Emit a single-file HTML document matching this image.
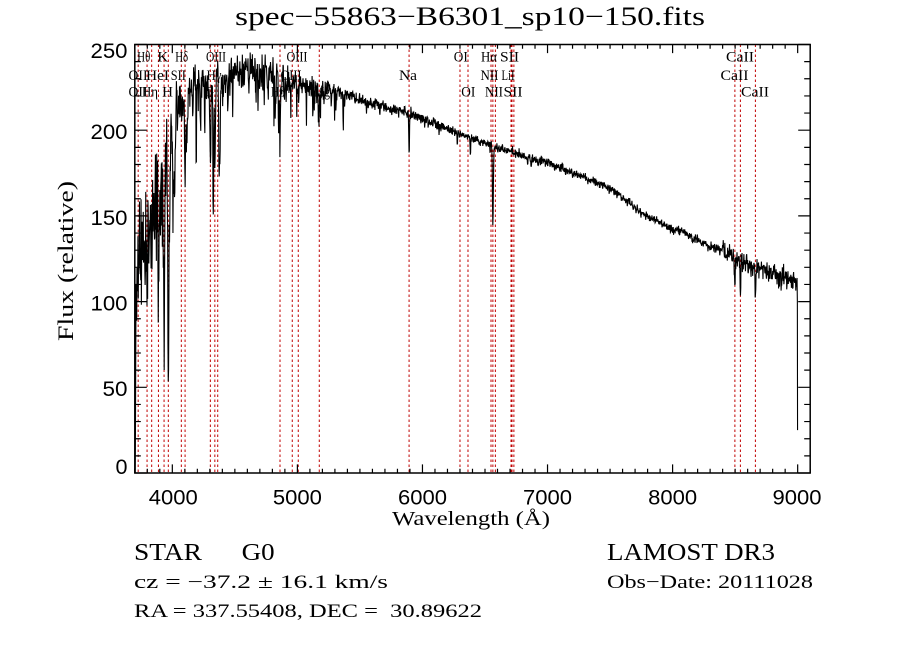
<!DOCTYPE html>
<html>
<head>
<meta charset="utf-8">
<style>
  html,body{margin:0;padding:0;background:#fff;}
  svg{display:block;}
  .serif{font-family:"Liberation Serif","DejaVu Serif",serif;}
  .sans{font-family:"Liberation Sans","DejaVu Sans",sans-serif;}
  .lab{font-family:"Liberation Serif","DejaVu Serif",serif;font-size:15px;text-anchor:middle;}
</style>
</head>
<body>
<svg id="chart" width="900" height="649" viewBox="0 0 900 649" xmlns="http://www.w3.org/2000/svg">
  <rect x="0" y="0" width="900" height="649" fill="#fff"/>
  <defs>
    <clipPath id="plotclip"><rect x="134.8" y="44.5" width="675.4" height="428.5"/></clipPath>
  </defs>

  <!-- title -->
  <text class="serif" x="235" y="25" font-size="26" textLength="470" lengthAdjust="spacingAndGlyphs">spec−55863−B6301_sp10−150.fits</text>

  <g id="redlines" clip-path="url(#plotclip)"></g>

  <!-- line labels -->
  <g>
    <text class="lab" x="143.8" y="61.5" textLength="13" lengthAdjust="spacingAndGlyphs">Hθ</text>
    <text class="lab" x="162.8" y="61.5">K</text>
    <text class="lab" x="181.7" y="61.5" textLength="13" lengthAdjust="spacingAndGlyphs">Hδ</text>
    <text class="lab" x="216" y="61.5" textLength="20" lengthAdjust="spacingAndGlyphs">OIII</text>
    <text class="lab" x="297" y="61.5" textLength="21" lengthAdjust="spacingAndGlyphs">OIII</text>
    <text class="lab" x="460.8" y="61.5" textLength="14" lengthAdjust="spacingAndGlyphs">OI</text>
    <text class="lab" x="489" y="61.5" textLength="16" lengthAdjust="spacingAndGlyphs">Hα</text>
    <text class="lab" x="509.5" y="61.5" textLength="19" lengthAdjust="spacingAndGlyphs">SII</text>
    <text class="lab" x="740" y="61.5" textLength="28" lengthAdjust="spacingAndGlyphs">CaII</text>

    <text class="lab" x="138" y="80" textLength="19" lengthAdjust="spacingAndGlyphs">OII</text>
    <text class="lab" x="157.5" y="80" textLength="23" lengthAdjust="spacingAndGlyphs">HeI</text>
    <text class="lab" x="178.3" y="80" textLength="15" lengthAdjust="spacingAndGlyphs">SII</text>
    <text class="lab" x="214" y="80" textLength="15" lengthAdjust="spacingAndGlyphs">Hγ</text>
    <text class="lab" x="291" y="80" textLength="21" lengthAdjust="spacingAndGlyphs">OIII</text>
    <text class="lab" x="408" y="80" textLength="18" lengthAdjust="spacingAndGlyphs">Na</text>
    <text class="lab" x="489.5" y="80" textLength="18" lengthAdjust="spacingAndGlyphs">NII</text>
    <text class="lab" x="508" y="80" textLength="13" lengthAdjust="spacingAndGlyphs">LiI</text>
    <text class="lab" x="734.5" y="80" textLength="28" lengthAdjust="spacingAndGlyphs">CaII</text>

    <text class="lab" x="138" y="96.5" textLength="19" lengthAdjust="spacingAndGlyphs">OII</text>
    <text class="lab" x="150" y="96.5" textLength="16" lengthAdjust="spacingAndGlyphs">Hη</text>
    <text class="lab" x="167.5" y="96.5">H</text>
    <text class="lab" x="209" y="96.5">G</text>
    <text class="lab" x="278" y="96.5" textLength="14" lengthAdjust="spacingAndGlyphs">Hβ</text>
    <text class="lab" x="322" y="96.5" textLength="16" lengthAdjust="spacingAndGlyphs">Mg</text>
    <text class="lab" x="468.3" y="96.5" textLength="14" lengthAdjust="spacingAndGlyphs">OI</text>
    <text class="lab" x="494" y="96.5" textLength="18" lengthAdjust="spacingAndGlyphs">NII</text>
    <text class="lab" x="513" y="96.5" textLength="19" lengthAdjust="spacingAndGlyphs">SII</text>
    <text class="lab" x="755" y="96.5" textLength="28" lengthAdjust="spacingAndGlyphs">CaII</text>
  </g>

  <g clip-path="url(#plotclip)">
    <path id="spec" d="" fill="none" stroke="#000" stroke-width="1.1" stroke-linejoin="miter"/>
  </g>

  <!-- frame -->
  <rect x="134.8" y="44.5" width="675.4" height="428.5" fill="none" stroke="#000" stroke-width="1.5"/>
  <path id="ticks" d="" fill="none" stroke="#000" stroke-width="1.2"/>

  <!-- y tick labels -->
  <g class="sans" font-size="21" text-anchor="end">
    <text x="127.5" y="58" textLength="37" lengthAdjust="spacingAndGlyphs">250</text>
    <text x="127.5" y="139" textLength="37" lengthAdjust="spacingAndGlyphs">200</text>
    <text x="127.5" y="225" textLength="37" lengthAdjust="spacingAndGlyphs">150</text>
    <text x="127.5" y="310.5" textLength="37" lengthAdjust="spacingAndGlyphs">100</text>
    <text x="127.5" y="396" textLength="25" lengthAdjust="spacingAndGlyphs">50</text>
    <text x="127.5" y="474" textLength="12" lengthAdjust="spacingAndGlyphs">0</text>
  </g>
  <!-- x tick labels -->
  <g class="sans" font-size="21" text-anchor="middle">
    <text x="173.3" y="504.3" textLength="49" lengthAdjust="spacingAndGlyphs">4000</text>
    <text x="297.4" y="504.3" textLength="49" lengthAdjust="spacingAndGlyphs">5000</text>
    <text x="422.5" y="504.3" textLength="49" lengthAdjust="spacingAndGlyphs">6000</text>
    <text x="547.5" y="504.3" textLength="49" lengthAdjust="spacingAndGlyphs">7000</text>
    <text x="672.6" y="504.3" textLength="49" lengthAdjust="spacingAndGlyphs">8000</text>
    <text x="797" y="504.3" textLength="49" lengthAdjust="spacingAndGlyphs">9000</text>
  </g>

  <!-- axis titles -->
  <text class="serif" x="471" y="525" font-size="20" text-anchor="middle" textLength="158" lengthAdjust="spacingAndGlyphs">Wavelength (Å)</text>
  <text class="serif" transform="translate(73,261) rotate(-90)" x="0" y="0" font-size="22" text-anchor="middle" textLength="160" lengthAdjust="spacingAndGlyphs">Flux (relative)</text>

  <!-- info text -->
  <text class="serif" x="134" y="560" font-size="24" textLength="68" lengthAdjust="spacingAndGlyphs">STAR</text>
  <text class="serif" x="241.7" y="560" font-size="24" textLength="33" lengthAdjust="spacingAndGlyphs">G0</text>
  <text class="serif" x="134" y="588" font-size="19" textLength="254" lengthAdjust="spacingAndGlyphs">cz = −37.2 ± 16.1 km/s</text>
  <text class="serif" x="134" y="617" font-size="19" textLength="348" lengthAdjust="spacingAndGlyphs" style="white-space:pre">RA = 337.55408, DEC =  30.89622</text>
  <text class="serif" x="607" y="560" font-size="24" textLength="168" lengthAdjust="spacingAndGlyphs">LAMOST DR3</text>
  <text class="serif" x="607" y="588" font-size="19" textLength="206" lengthAdjust="spacingAndGlyphs">Obs−Date: 20111028</text>
</svg>

<script>
(function(){
  var X0=134.8, SX=0.12507, Y0=473, SY=1.714;
  function xp(l){return X0+(l-3700)*SX;}
  function yp(v){return Y0-v*SY;}

  // ticks
  var d="";
  for(var l=3700;l<=9100;l+=100){
    var x=xp(l).toFixed(2);
    var major=(l%1000===0);
    var len=major?8.6:4.3;
    d+="M"+x+" 473V"+(473-len).toFixed(2)+"M"+x+" 44.5V"+(44.5+len).toFixed(2);
  }
  for(var v=0;v<=250;v+=10){
    var y=yp(v).toFixed(2);
    var major=(v%50===0);
    var len=major?12:6;
    d+="M134.8 "+y+"H"+(134.8+len)+"M810.2 "+y+"H"+(810.2-len);
  }
  document.getElementById("ticks").setAttribute("d",d);

  // red dotted lines
  var rl=[3727,3798,3835,3889,3934,3968,4072,4102,4304,4340,4363,4861,4959,5007,5175,5893,6300,6364,6548,6563,6583,6708,6716,6731,8498,8542,8662];
  var g=document.getElementById("redlines");
  var ns="http://www.w3.org/2000/svg";
  rl.forEach(function(l){
    var ln=document.createElementNS(ns,"line");
    var x=xp(l);
    ln.setAttribute("x1",x);ln.setAttribute("x2",x);
    ln.setAttribute("y1",44.5);ln.setAttribute("y2",473);
    ln.setAttribute("stroke","#c00000");
    ln.setAttribute("stroke-width","1");
    ln.setAttribute("stroke-dasharray","2.5,2.5");
    g.appendChild(ln);
  });

  // spectrum
  var s=20111028;
  function R(){s=(Math.imul(s,1664525)+1013904223)>>>0;return s/4294967296;}
  function gauss(){var u=R()||1e-9,v=R();var g=Math.sqrt(-2*Math.log(u))*Math.cos(2*Math.PI*v);if(g>2.8)g=2.8;if(g<-2.8)g=-2.8;return g;}
  var cont=[[3700,110],[3750,125],[3800,135],[3850,145],[3900,158],[3950,192],[4000,214],[4100,222],[4200,226],[4300,226],[4400,230],[4500,235],[4600,237],[4700,237],[4800,235],[4900,230],[5000,227],[5100,225],[5200,225],[5300,224],[5400,221],[5500,218],[5600,216],[5700,214],[5800,212],[5900,210],[6000,207],[6100,204],[6200,201],[6300,198],[6400,195],[6500,193],[6600,190],[6700,188],[6800,185],[6900,183],[7000,181],[7100,178],[7200,175],[7300,172],[7400,169],[7500,166],[7600,161],[7700,155],[7800,150],[7900,146],[8000,142],[8100,140],[8200,136],[8300,133],[8400,130],[8500,127],[8600,122],[8700,119],[8800,117],[8900,114],[9000,111]];
  function interp(l){
    for(var i=0;i<cont.length-1;i++){
      if(l<=cont[i+1][0]){var a=cont[i],b=cont[i+1];return a[1]+(b[1]-a[1])*(l-a[0])/(b[0]-a[0]);}
    }
    return cont[cont.length-1][1];
  }
  var lines=[[3798,0.2,3],[3835,0.25,3],[3889,0.25,3.5],[3934,0.6,5],[3968,0.62,5],
    [4102,0.25,4],[4226,0.12,2],[4304,0.2,3.5],[4340,0.2,4],[4383,0.08,2],
    [4861,0.18,4],[5167,0.07,2],[5173,0.09,2],[5184,0.09,2],[5270,0.05,2],
    [5893,0.12,3],[6563,0.25,3.5],[6870,0.03,3],[8498,0.14,3],[8542,0.17,3],[8662,0.17,3]];
  var keep=[4861,5175,5893,6563,4340,4102];
  function addRand(n,a,b,dmax){
    for(var i=0;i<n;i++){
      var c=a+(b-a)*R(), dd=dmax*Math.pow(R(),1.7), w=1.2+1.6*R();
      var ok=true;
      for(var j=0;j<keep.length;j++){ if(Math.abs(c-keep[j])<9) ok=false; }
      if(ok) lines.push([c,dd,w]);
    }
  }
  addRand(70,3950,4400,0.2);
  addRand(55,4400,4950,0.1);
  addRand(30,4950,5400,0.08);
  addRand(40,5400,6600,0.035);
  addRand(30,6600,9000,0.03);
  function sig(l){
    if(l<3950)return 18;
    if(l<4000)return 10;
    if(l<4400)return 7;
    if(l<4900)return 4.5;
    if(l<5250)return 3.5;
    if(l<6000)return 1.6;
    if(l<8400)return 1.3;
    return 3;
  }
  var pts=[[3704,0],[3707,60]];
  for(var l=3710;l<=8995;l+=2.5){
    var f=interp(l);
    for(var k=0;k<lines.length;k++){
      var c=lines[k],dl=l-c[0];
      if(Math.abs(dl)<5*c[2]) f*=1-c[1]*Math.exp(-0.5*dl*dl/(c[2]*c[2]));
    }
    f+=gauss()*sig(l);
    pts.push([l,f]);
  }
  pts.push([8997.5,100]);pts.push([8999,25]);
  var p="";
  for(var i=0;i<pts.length;i++){
    p+=(i?"L":"M")+xp(pts[i][0]).toFixed(2)+" "+yp(pts[i][1]).toFixed(2);
  }
  document.getElementById("spec").setAttribute("d",p);
})();
</script>
</body>
</html>
